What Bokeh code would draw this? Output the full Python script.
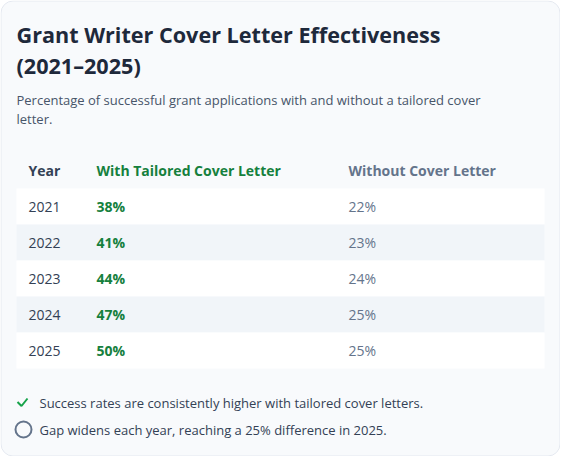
from bokeh.plotting import figure
from bokeh.models import Range1d
from bokeh.core.properties import value
from bokeh.embed import file_html
from bokeh.resources import INLINE

title_lines = ["Grant Writer Cover Letter Effectiveness", "(2021\u20132025)"]
subtitle_lines = ["Percentage of successful grant applications with and without a tailored cover",
                  "letter."]
headers = ["Year", "With Tailored Cover Letter", "Without Cover Letter"]
years = ["2021", "2022", "2023", "2024", "2025"]
with_letter = [38, 41, 44, 47, 50]
without_letter = [22, 23, 24, 25, 25]
notes = ["Success rates are consistently higher with tailored cover letters.",
         "Gap widens each year, reaching a 25% difference in 2025."]

FONT = value("Open Sans")
W, H = 560, 456

# y axis runs downward, units are pixels of the figure
p = figure(width=W, height=H, output_backend="svg", toolbar_location=None,
           x_range=Range1d(0, W), y_range=Range1d(H, 0))
p.axis.visible = False
p.grid.visible = False
p.outline_line_color = None
p.background_fill_color = "white"
p.border_fill_color = "white"
p.min_border = 0

# card
p.quad(left=[0.5], right=[W - 0.5], top=[0.5], bottom=[H - 0.5], fill_color="#f8fafc",
       line_color="#e5e9f0", line_width=1, border_radius=12)

# title and subtitle
p.text(x=[16] * len(title_lines), y=[34 + 31 * i for i in range(len(title_lines))], text=title_lines,
       text_font=FONT, text_font_size="21.6px", text_font_style="bold", text_color="#1e293b",
       text_baseline="middle")
p.text(x=[16] * len(subtitle_lines), y=[99 + 19 * i for i in range(len(subtitle_lines))],
       text=subtitle_lines, text_font=FONT, text_font_size="13px", text_color="#475569",
       text_baseline="middle")

# table
col_x = [28, 96, 348]
row_top = 188
row_h = 36
tbl_left, tbl_right = 16, 544

p.text(x=col_x, y=[170] * 3, text=headers, text_font=FONT, text_font_size="14px",
       text_font_style="bold", text_color=["#334155", "#15803d", "#64748b"], text_baseline="middle")

tops = [row_top + i * row_h for i in range(len(years))]
p.quad(left=[tbl_left] * len(years), right=[tbl_right] * len(years), top=tops,
       bottom=[t + row_h for t in tops],
       fill_color=["#ffffff" if i % 2 == 0 else "#f1f5f9" for i in range(len(years))],
       line_color=None)

mids = [t + row_h / 2 for t in tops]
p.text(x=[col_x[0]] * len(years), y=mids, text=years, text_font=FONT, text_font_size="14px",
       text_color="#334155", text_baseline="middle")
p.text(x=[col_x[1]] * len(years), y=mids, text=[f"{v}%" for v in with_letter], text_font=FONT,
       text_font_size="14px", text_font_style="bold", text_color="#15803d", text_baseline="middle")
p.text(x=[col_x[2]] * len(years), y=mids, text=[f"{v}%" for v in without_letter], text_font=FONT,
       text_font_size="14px", text_color="#64748b", text_baseline="middle")

# notes
note_y = [402, 429]
p.line(x=[17, 21, 27], y=[note_y[0] - 0.5, note_y[0] + 3.5, note_y[0] - 4], line_color="#16a34a",
       line_width=2)
p.scatter(x=[23], y=[note_y[1]], marker="circle", size=16, fill_color=None, line_color="#64748b",
          line_width=2)
p.text(x=[39] * len(notes), y=note_y, text=notes, text_font=FONT, text_font_size="13px",
       text_color="#334155", text_baseline="middle")

open("out.html", "w").write(file_html(p, INLINE))
